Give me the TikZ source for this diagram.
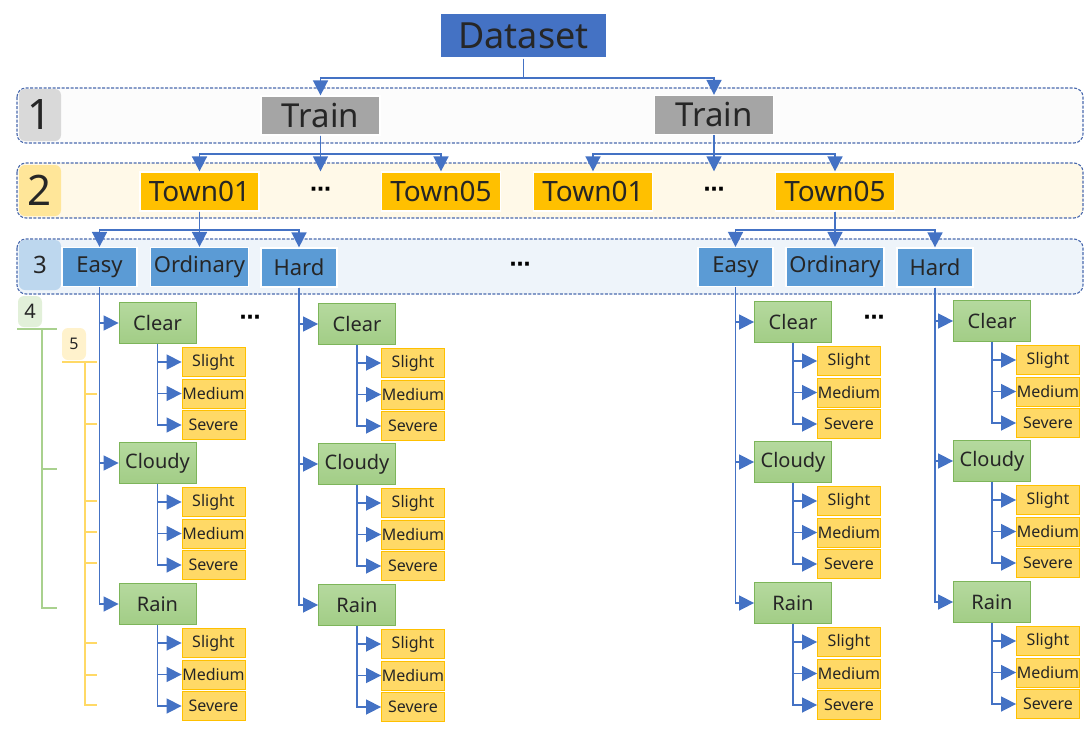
\documentclass[tikz,border=0pt]{standalone}
\usepackage{fontspec}
\setmainfont{Noto Sans}
\newfontfamily\dotsfont{DejaVu Sans}
\usepackage{xcolor}
\usepackage{tikz}
\usetikzlibrary{arrows.meta}

\definecolor{dsblue}{HTML}{4472C4}
\definecolor{traingrey}{HTML}{A5A5A5}
\definecolor{townyel}{HTML}{FFC000}
\definecolor{diffblue}{HTML}{5B9BD5}
\definecolor{wtop}{HTML}{B5D99E}
\definecolor{wbot}{HTML}{A2CD86}
\definecolor{wline}{HTML}{7DB55A}
\definecolor{leaffill}{HTML}{FFD966}
\definecolor{bandline}{HTML}{4A6AAE}
\definecolor{band1}{HTML}{FCFCFC}
\definecolor{band2}{HTML}{FFF9E8}
\definecolor{band3}{HTML}{EEF4FA}
\definecolor{lab1}{HTML}{D9D9D9}
\definecolor{lab2}{HTML}{FFE699}
\definecolor{lab3}{HTML}{BDD7EE}
\definecolor{lab4}{HTML}{E2F0D9}
\definecolor{lab5}{HTML}{FFF2CC}
\definecolor{brk4}{HTML}{A9D18E}
\definecolor{brk5}{HTML}{FFD966}
\definecolor{txt}{HTML}{262626}

\tikzset{
  box/.style={inner sep=0pt, text=txt, draw=white, line width=1.2pt},
  dsbox/.style={box, fill=dsblue, minimum width=167pt, minimum height=45pt,
    font=\fontsize{36}{38}\selectfont},
  trainbox/.style={box, fill=traingrey, minimum width=119pt, minimum height=39pt,
    font=\fontsize{33}{35}\selectfont},
  townbox/.style={box, fill=townyel, minimum width=119pt, minimum height=39pt,
    font=\fontsize{28}{30}\selectfont},
  diffbox/.style={box, fill=diffblue, minimum height=39pt,
    font=\fontsize{22}{24}\selectfont},
  wbox/.style={inner sep=0pt, text=txt, draw=wline, line width=0.8pt,
    top color=wtop, bottom color=wbot, minimum width=77pt, minimum height=41pt,
    font=\fontsize{20}{22}\selectfont},
  leaf/.style={inner sep=0pt, text=txt, draw=townyel, line width=0.8pt,
    fill=leaffill, minimum width=63pt, minimum height=29pt,
    font=\fontsize{16}{18}\selectfont},
  dotsnode/.style={inner sep=0pt, minimum height=40pt, text=black,
    font=\dotsfont\bfseries\fontsize{21}{24}\selectfont},
  band/.style={draw=bandline, line width=1.1pt, dash pattern=on 3pt off 1.5pt,
    rounded corners=9pt},
  lvl/.style={inner sep=0pt, text=txt, rounded corners=6pt},
  conn/.style={draw=dsblue, line width=1.5pt,
    -{Triangle[length=15pt,width=15pt]}}
}

\begin{document}
\begin{tikzpicture}[x=1pt,y=-1pt]
  \useasboundingbox (0,0) rectangle (1091,728);

  % levels
  \draw[band, fill=band1] (17,88) rectangle (1083,143);
  \draw[band, fill=band2] (17,163) rectangle (1083,218);
  \draw[band, fill=band3] (17,239) rectangle (1083,294);
  \node[lvl, fill=lab1, minimum width=42pt, minimum height=52pt,
    font=\fontsize{42}{44}\selectfont] (l1) at (40,115) {1};
  \node[lvl, fill=lab2, minimum width=42pt, minimum height=51pt,
    font=\fontsize{42}{44}\selectfont] (l2) at (40,190.5) {2};
  \node[lvl, fill=lab3, minimum width=42pt, minimum height=50pt,
    font=\fontsize{24}{26}\selectfont] (l3) at (40,265) {3};
  \node[lvl, fill=lab4, minimum width=24pt, minimum height=31pt,
    font=\fontsize{20}{22}\selectfont] (l4) at (30,311.5) {4};
  \node[lvl, fill=lab5, minimum width=24pt, minimum height=32pt,
    font=\fontsize{16}{18}\selectfont] (l5) at (74,344) {5};

  \draw[brk4, line width=1.2pt] (17,329) -- (57,329);
  \draw[brk4, line width=1.2pt] (42,329) -- (42,608) -- (57,608);
  \draw[brk4, line width=1.2pt] (42,469) -- (57,469);
  \draw[brk5, line width=1.2pt] (62,362) -- (97,362);
  \draw[brk5, line width=1.2pt] (85,362) -- (85,705) -- (97,705);
  \foreach \ty in {394,424,501,532,563,643,675}
    \draw[brk5, line width=1.2pt] (85,\ty) -- (97,\ty);

  % top
  \node[dsbox] (ds) at (523.5,35.5) {Dataset};
  \node[trainbox] (trL) at (320.5,115.5) {Train};
  \node[trainbox] (trR) at (714,115) {Train};

  \node[townbox] (t1L) at (199.5,191.5) {Town01};
  \node[dotsnode] (d2L) at (320.5,191.5) {⋯};
  \node[townbox] (t5L) at (441,191.5) {Town05};
  \node[townbox] (t1R) at (593,191.5) {Town01};
  \node[dotsnode] (d2R) at (714,191.5) {⋯};
  \node[townbox] (t5R) at (835,191.5) {Town05};

  \node[diffbox, minimum width=75pt] (eL) at (99.5,267) {Easy};
  \node[diffbox, minimum width=98pt] (oL) at (199.5,267) {Ordinary};
  \node[diffbox, minimum width=76pt] (hL) at (299,267.5) {Hard};
  \node[dotsnode] (d3) at (520,267) {⋯};
  \node[diffbox, minimum width=75pt] (eR) at (735.5,267) {Easy};
  \node[diffbox, minimum width=98pt] (oR) at (835,267) {Ordinary};
  \node[diffbox, minimum width=76pt] (hR) at (935,267.5) {Hard};

  \node[dotsnode] (d4L) at (250,320) {⋯};
  \node[dotsnode] (d4R) at (874,320) {⋯};

  % connectors
  \coordinate (bus1) at (0,78);
  \coordinate (bus2) at (0,154);
  \coordinate (bus3) at (0,230);
  \foreach \a in {trL,trR}
    \draw[conn] (ds.south) -- (ds.south |- bus1) -| (\a.north);
  \foreach \a in {t1L,d2L,t5L}
    \draw[conn] (trL.south) -- (trL.south |- bus2) -| (\a.north);
  \foreach \a in {t1R,d2R,t5R}
    \draw[conn] (trR.south) -- (trR.south |- bus2) -| (\a.north);
  \foreach \a in {eL,oL,hL}
    \draw[conn] (t1L.south) -- (t1L.south |- bus3) -| (\a.north);
  \foreach \a in {eR,oR,hR}
    \draw[conn] (t5R.south) -- (t5R.south |- bus3) -| (\a.north);

  % weather and severity
  \foreach \c/\x/\y in {eL/157.5/323, hL/357/324, eR/793/322, hR/992/321}{
    \foreach \w/\t/\dy in {clear/Clear/0, cloudy/Cloudy/140, rain/Rain/281}{
      \node[wbox] (\c-\w) at (\x,\y+\dy) {\t};
      \draw[conn] (\c.south) |- (\c-\w.west);
      \foreach \s/\u/\ly in {slight/Slight/39, medium/Medium/70.5, severe/Severe/102}{
        \node[leaf] (\c-\w-\s) at (\x+56,\y+\dy+\ly) {\u};
        \draw[conn] (\c-\w.south) |- (\c-\w-\s.west);
      }
    }
  }
\end{tikzpicture}
\end{document}
